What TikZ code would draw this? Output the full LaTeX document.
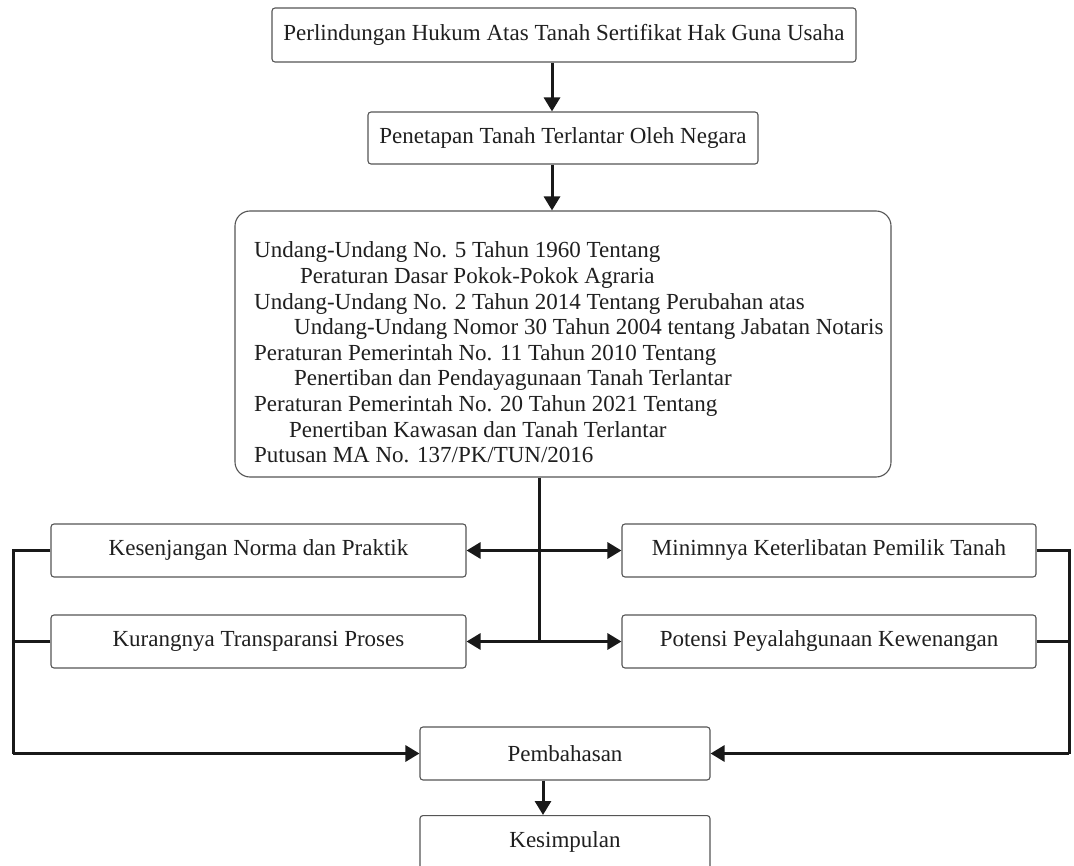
\documentclass[tikz,border=0pt]{standalone}
\usepackage{fontspec}
\setmainfont{Liberation Serif}
\usetikzlibrary{arrows.meta}
\definecolor{boxline}{RGB}{85,85,85}
\definecolor{conn}{RGB}{25,25,25}
\tikzset{
  txt/.style={font=\fontsize{23}{25.6}\selectfont, text=black!88},
  box/.style={draw=boxline, line width=1.1pt, rounded corners=3pt, inner sep=0pt, txt},
  bigbox/.style={draw=boxline, line width=1.1pt, rounded corners=15pt, inner sep=0pt},
  conn/.style={draw=conn, line width=3pt},
  arr/.style={conn, -{Triangle[length=14pt,width=16pt]}},
  darr/.style={conn, {Triangle[length=14pt,width=16pt]}-{Triangle[length=14pt,width=16pt]}},
}
\begin{document}
\begin{tikzpicture}[x=1pt,y=-1pt]
\useasboundingbox (0,0) rectangle (1074,866);
\clip (0,0) rectangle (1074,866);
\fill[white] (0,0) rectangle (1074,866);

\node[box, minimum width=584pt, minimum height=54pt] (b1) at (564,35) {Perlindungan Hukum Atas Tanah Sertifikat Hak Guna Usaha};
\node[box, minimum width=390pt, minimum height=52pt] (b2) at (563,138) {Penetapan Tanah Terlantar Oleh Negara};
\node[bigbox, minimum width=656pt, minimum height=266pt] (law) at (563,344) {};
\node[anchor=west, align=left, inner sep=0pt, txt] (lawtext) at (254,352.5) {%
Undang-Undang No. 5 Tahun 1960 Tentang\\
\hspace*{46pt}Peraturan Dasar Pokok-Pokok Agraria\\
Undang-Undang No. 2 Tahun 2014 Tentang Perubahan atas\\
\hspace*{40pt}Undang-Undang Nomor 30 Tahun 2004 tentang Jabatan Notaris\\
Peraturan Pemerintah No. 11 Tahun 2010 Tentang\\
\hspace*{40pt}Penertiban dan Pendayagunaan Tanah Terlantar\\
Peraturan Pemerintah No. 20 Tahun 2021 Tentang\\
\hspace*{35pt}Penertiban Kawasan dan Tanah Terlantar\\
Putusan MA No. 137/PK/TUN/2016};

\node[box, minimum width=415pt, minimum height=53pt] (k1) at (258.5,550.5) {Kesenjangan Norma dan Praktik};
\node[box, minimum width=415pt, minimum height=53pt] (k2) at (258.5,641.5) {Kurangnya Transparansi Proses};
\node[box, minimum width=414pt, minimum height=53pt] (m1) at (829,550.5) {Minimnya Keterlibatan Pemilik Tanah};
\node[box, minimum width=414pt, minimum height=53pt] (m2) at (829,641.5) {Potensi Peyalahgunaan Kewenangan};

\node[box, minimum width=290pt, minimum height=53pt] (pb) at (565,753.5) {Pembahasan};
\node[box, minimum width=290pt, minimum height=70pt, anchor=north] (ks) at (565,815) {};
\node[txt, inner sep=0pt] (kstext) at (565,842) {Kesimpulan};

\coordinate (c1) at (539,550.5);
\coordinate (c2) at (539,641.5);
\coordinate (lt) at (13,550.5);
\coordinate (lb) at (13,753.5);
\coordinate (rt) at (1069,550.5);
\coordinate (rb) at (1069,753.5);

\draw[arr] (b1.south -| 552,0) -- (b2.north -| 552,0);
\draw[arr] (b2.south -| 552,0) -- (law.north -| 552,0);
\draw[conn] (law.south -| c1) -- (c2);
\draw[darr] (k1.east) -- (m1.west);
\draw[darr] (k2.east) -- (m2.west);
\draw[conn] (k1.west) -- (lt) -- (lb);
\draw[conn] (k2.west) -- (k2.west -| lt);
\draw[arr] (lb) -- (pb.west);
\draw[conn] (m1.east) -- (rt) -- (rb);
\draw[conn] (m2.east) -- (m2.east -| rt);
\draw[arr] (rb) -- (pb.east);
\draw[arr] (pb.south -| 543,0) -- (ks.north -| 543,0);
\end{tikzpicture}
\end{document}
